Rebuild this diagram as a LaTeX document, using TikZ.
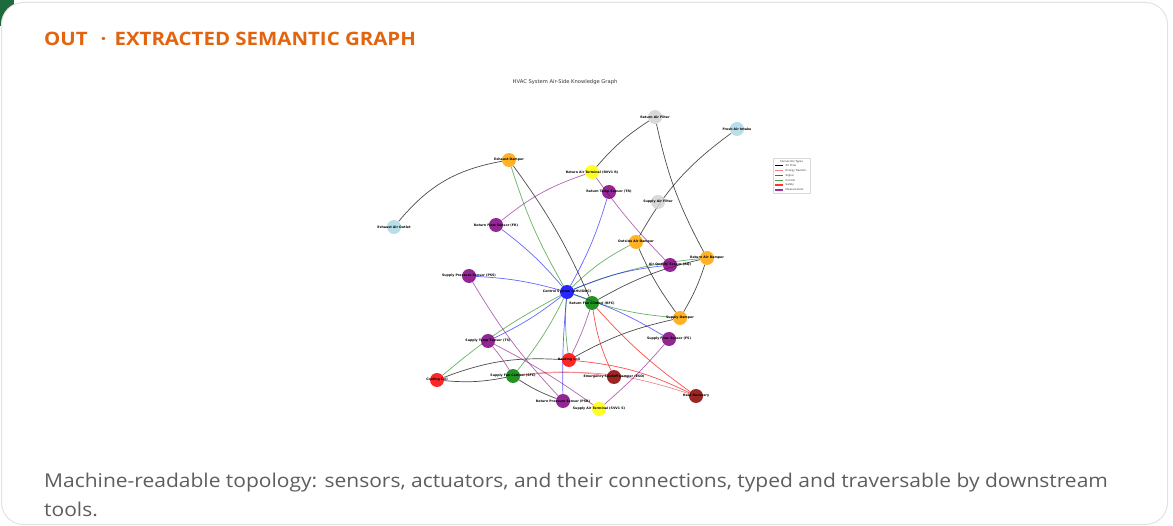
\documentclass[tikz,border=0pt]{standalone}
\usepackage{fontspec}
\setmainfont{Open Sans}
\newfontfamily\capfont[FakeStretch=1.105]{Open Sans}
\newfontfamily\gfont{DejaVu Sans}
\pgfdeclarelayer{cardlayer}
\pgfdeclarelayer{edgelayer}
\pgfsetlayers{cardlayer,edgelayer,main}
\definecolor{cardborder}{HTML}{E2E2E2}
\definecolor{titleorange}{HTML}{E2640F}
\definecolor{captiongray}{HTML}{5E5E5E}
\definecolor{cornergreen}{HTML}{1D6B3C}
\definecolor{cOrange}{HTML}{FFA500}
\definecolor{cYellow}{HTML}{FFFF00}
\definecolor{cPurple}{HTML}{800080}
\definecolor{cGray}{HTML}{D3D3D3}
\definecolor{cLBlue}{HTML}{ADD8E6}
\definecolor{cBlue}{HTML}{0000FF}
\definecolor{cGreen}{HTML}{008000}
\definecolor{cRed}{HTML}{FF0000}
\definecolor{cDRed}{HTML}{8B0000}
\definecolor{cPink}{HTML}{F08080}
\tikzset{
  gn/.style={circle, minimum size=14pt, inner sep=0pt, draw=none, fill opacity=0.85},
  glab/.style={font=\gfont\bfseries\fontsize{3.2}{3.6}\selectfont, text=black, inner sep=0pt},
  airflow/.style={draw=black, opacity=0.7, line width=0.7pt},
  energy/.style={draw=cPink, opacity=0.9, line width=0.7pt},
  signal/.style={draw=cBlue, opacity=0.6, line width=0.7pt},
  control/.style={draw=cGreen, opacity=0.6, line width=0.7pt},
  safety/.style={draw=cRed, opacity=0.7, line width=0.7pt},
  measure/.style={draw=cPurple, opacity=0.6, line width=0.7pt},
  legtxt/.style={font=\gfont\fontsize{2.6}{3}\selectfont, anchor=west, inner sep=0pt, text=black!80},
  legline/.style={line width=1.1pt},
  captxt/.style={anchor=base west, inner sep=0pt, text=captiongray, font=\capfont\fontsize{19}{23}\selectfont},
}
\begin{document}
\begin{tikzpicture}[x=1pt,y=-1pt]
\useasboundingbox (0,0) rectangle (1173,526);
\begin{pgfonlayer}{cardlayer}
\fill[cornergreen] (0,0) rectangle (14,26);
\node[draw=cardborder, line width=1pt, fill=white, rounded corners=22pt, minimum width=1166pt, minimum height=522pt, anchor=north west, inner sep=0pt] (card) at (1,2) {};
\end{pgfonlayer}
\node[anchor=base west, inner sep=0pt, text=titleorange, font=\capfont\fontsize{18.5}{22}\selectfont\bfseries] (title) at (44,46) {OUT\hspace{13pt}·\hspace{8pt}EXTRACTED SEMANTIC GRAPH};
\node[captxt] (caption1) at (44,487) {Machine-readable topology: sensors, actuators, and their connections, typed and traversable by downstream};
\node[captxt] (caption2) at (44,516) {tools.};
\node[inner sep=0pt, font=\gfont\fontsize{5.2}{6}\selectfont, text=black!80] (gtitle) at (565,82) {HVAC System Air-Side Knowledge Graph};

% nodes
\node[gn, fill=cGray,   label={[glab]center:Return Air Filter}] (raf) at (655,117) {};
\node[gn, fill=cLBlue,  label={[glab]center:Fresh Air Intake}] (fai) at (737,129) {};
\node[gn, fill=cOrange, label={[glab]center:Exhaust Damper}] (exd) at (509,160) {};
\node[gn, fill=cYellow, label={[glab]center:Return Air Terminal (RVV1 R)}] (rat) at (592,172) {};
\node[gn, fill=cPurple, label={[glab]center:Return Temp Sensor (TR)}] (rts) at (609,192) {};
\node[gn, fill=cGray,   label={[glab]center:Supply Air Filter}] (saf) at (658,202) {};
\node[gn, fill=cLBlue,  label={[glab]center:Exhaust Air Outlet}] (eao) at (394,227) {};
\node[gn, fill=cPurple, label={[glab]center:Return Flow Sensor (FR)}] (rfs) at (496,225) {};
\node[gn, fill=cOrange, label={[glab]center:Outside Air Damper}] (oad) at (636,242) {};
\node[gn, fill=cPurple, label={[glab]center:Air Quality Sensor (AQ)}] (aqs) at (670,265) {};
\node[gn, fill=cOrange, label={[glab]center:Return Air Damper}] (rad) at (707,258) {};
\node[gn, fill=cPurple, label={[glab]center:Supply Pressure Sensor (PSS)}] (pss) at (469,276) {};
\node[gn, fill=cBlue,   label={[glab]center:Control System (AHU/DDC)}] (ctl) at (567,292) {};
\node[gn, fill=cGreen,  label={[glab]center:Return Fan Control (RFC)}] (rfc) at (592,303) {};
\node[gn, fill=cOrange, label={[glab]center:Supply Damper}] (sud) at (680,318) {};
\node[gn, fill=cPurple, label={[glab]center:Supply Flow Sensor (FS)}] (sfs) at (669,339) {};
\node[gn, fill=cPurple, label={[glab]center:Supply Temp Sensor (TS)}] (sts) at (488,341) {};
\node[gn, fill=cRed,    label={[glab]center:Heating Coil}] (hc) at (569,360) {};
\node[gn, fill=cRed,    label={[glab]center:Cooling Coil}] (cc) at (437,380) {};
\node[gn, fill=cGreen,  label={[glab]center:Supply Fan Control (SFC)}] (sfc) at (513,376) {};
\node[gn, fill=cDRed,   label={[glab]center:Emergency Shutoff Damper (ESD)}] (esd) at (614,377) {};
\node[gn, fill=cDRed,   label={[glab]center:Heat Recovery}] (hr) at (696,396) {};
\node[gn, fill=cPurple, label={[glab]center:Return Pressure Sensor (PSR)}] (prs) at (563,401) {};
\node[gn, fill=cYellow, label={[glab]center:Supply Air Terminal (SVV1 S)}] (sat) at (599,409) {};

% edges
\begin{pgfonlayer}{edgelayer}
\draw[airflow] (eao) to[bend left=20] (exd);
\draw[airflow] (raf) to[bend right=8] (rat);
\draw[airflow] (raf) to[bend right=8] (rad);
\draw[airflow] (fai) to[bend right=12] (oad);
\draw[airflow] (oad) to[bend right=6] (sud);
\draw[airflow] (rad) to[bend left=6] (sud);
\draw[airflow] (exd) to[bend left=6] (rfc);
\draw[airflow] (rfc) to[bend left=8] (rad);
\draw[airflow] (hc) to[bend left=8] (sud);
\draw[airflow] (cc) to[bend left=12] (hc);
\draw[airflow] (cc) to[bend right=8] (sfc);
\draw[airflow] (sfc) to[bend right=6] (prs);
\draw[energy] (sfc) to[bend left=8] (esd);
\draw[energy] (sfc) to[bend left=12] (hr);
\draw[safety] (hc) to[bend left=10] (hr);
\draw[safety] (rfc) to[bend right=8] (esd);
\draw[safety] (rfc) to[bend right=6] (hr);
\draw[control] (ctl) to[bend left=6] (exd);
\draw[control] (ctl) to[bend left=8] (oad);
\draw[control] (ctl) to[bend left=8] (rad);
\draw[control] (ctl) to[bend right=8] (sud);
\draw[control] (ctl) to[bend right=6] (cc);
\draw[control] (ctl) to[bend left=6] (sfc);
\draw[control] (ctl) to[bend right=6] (hc);
\draw[signal] (ctl) to[bend right=6] (rts);
\draw[signal] (ctl) to[bend right=6] (rfs);
\draw[signal] (ctl) to[bend right=6] (pss);
\draw[signal] (ctl) to[bend left=8] (aqs);
\draw[signal] (ctl) to[bend left=6] (sts);
\draw[signal] (ctl) to[bend left=6] (sfs);
\draw[signal] (ctl) to[bend right=3] (prs);
\draw[measure] (rat) to[bend right=10] (rfs);
\draw[measure] (rat) to[bend right=4] (aqs);
\draw[measure] (rfc) to[bend left=4] (hc);
\draw[measure] (pss) to[bend right=6] (prs);
\draw[measure] (sts) to[bend left=4] (sfc);
\draw[measure] (sts) to[bend left=4] (sat);
\draw[measure] (sfs) to[bend left=4] (sat);
\end{pgfonlayer}

% legend
\node[draw=black!15, line width=0.3pt, fill=white, minimum width=37pt, minimum height=35pt, anchor=north west, inner sep=0pt] (legend) at (773,158) {};
\node[inner sep=0pt, font=\gfont\fontsize{2.6}{3}\selectfont, text=black!80] (legtitle) at (791.5,161.5) {Connection Types};
\coordinate (l1) at (775,165.7); \coordinate (l1e) at (783,165.7);
\coordinate (l2) at (775,170.7); \coordinate (l2e) at (783,170.7);
\coordinate (l3) at (775,175.3); \coordinate (l3e) at (783,175.3);
\coordinate (l4) at (775,180.3); \coordinate (l4e) at (783,180.3);
\coordinate (l5) at (775,185.0); \coordinate (l5e) at (783,185.0);
\coordinate (l6) at (775,190.0); \coordinate (l6e) at (783,190.0);
\draw[legline, black] (l1) -- (l1e);
\draw[legline, cPink] (l2) -- (l2e);
\draw[legline, cBlue!70] (l3) -- (l3e);
\draw[legline, cGreen!70] (l4) -- (l4e);
\draw[legline, cRed!80] (l5) -- (l5e);
\draw[legline, cPurple!80] (l6) -- (l6e);
\node[legtxt] (t1) at (785.5,165.7) {Air Flow};
\node[legtxt] (t2) at (785.5,170.7) {Energy Transfer};
\node[legtxt] (t3) at (785.5,175.3) {Signal};
\node[legtxt] (t4) at (785.5,180.3) {Control};
\node[legtxt] (t5) at (785.5,185.0) {Safety};
\node[legtxt] (t6) at (785.5,190.0) {Measurement};
\end{tikzpicture}
\end{document}
